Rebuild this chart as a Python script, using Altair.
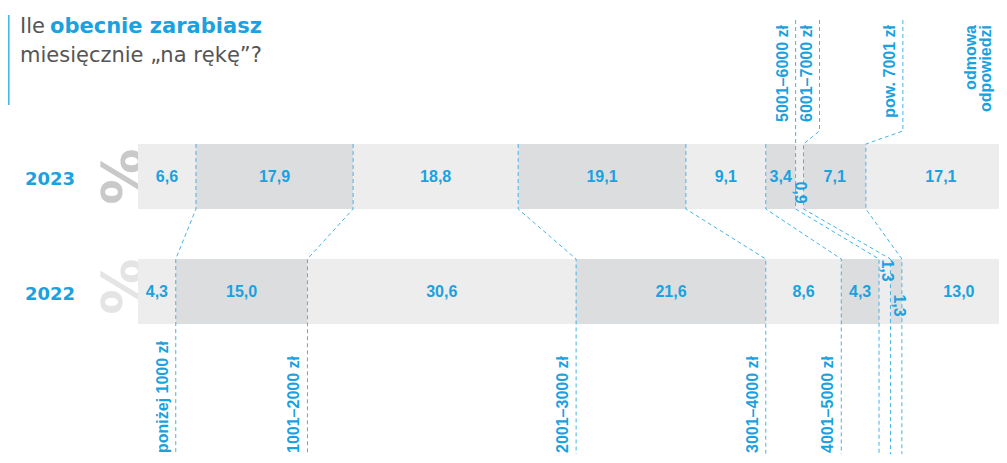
import altair as alt
import pandas as pd

# ---------------- data ----------------
years = ["2023", "2022"]
categories = ["poniżej 1000 zł", "1001–2000 zł", "2001–3000 zł", "3001–4000 zł",
              "4001–5000 zł", "5001–6000 zł", "6001–7000 zł", "pow. 7001 zł",
              "odmowa\nodpowiedzi"]
values_2023 = [6.6, 17.9, 18.8, 19.1, 9.1, 3.4, 0.9, 7.1, 17.1]
values_2022 = [4.3, 15.0, 30.6, 21.6, 8.6, 4.3, 1.3, 1.3, 13.0]
title_plain = "Ile"
title_bold = "obecnie zarabiasz"
title_line2 = "miesięcznie „na rękę”?"

# ---------------- layout / style ----------------
PLOT_X0 = 138          # page x of 0 %
PX_PER_PCT = 8.78
PLOT_W = 861           # plot reaches page x 999
PLOT_Y0 = 8
PLOT_H = 446           # plot reaches page y 454
BAR_TOP = {"2023": 144, "2022": 259}
BAR_H = 65
LINE_TOP_Y = 20
KINK_Y = 131
TOP_LABEL_Y = 25
BOTTOM_LABEL_Y = 453
LABEL_GAP_PX = 13
TOP_SHIFT_PX = {6: 0, 7: 16, 8: 37, 9: -32}       # boundaries leading to top labels
SMALL_OFFSETS = {("2023", 6): (0, 16), ("2022", 6): (2, -21), ("2022", 7): (3, 14)}
PCT_DY = {"2023": 0, "2022": -5}
PCT_COLOR = {"2023": "#c9c9c9", "2022": "#e4e4e4"}

BLUE = "#1aa1e0"
LINE_BLUE = "#45b4e6"
LIGHT = "#ededed"
DARK = "#dcdddf"
GRAY_TXT = "#555555"

def fmt(v):
    return f"{v:.1f}".replace(".", ",")

def pct(px):
    return px / PX_PER_PCT

series = {"2023": values_2023, "2022": values_2022}
cums = {}
bar_rows = []
for yr in years:
    c = 0.0
    cl = [0.0]
    for i, v in enumerate(series[yr]):
        top = BAR_TOP[yr]
        bar_rows.append(dict(year=yr, i=i, start=c, end=c + v, top=top, bottom=top + BAR_H,
                             fill=LIGHT if i % 2 == 0 else DARK, label=fmt(v),
                             xc=c + v / 2, yc=top + BAR_H / 2, small=v < 2))
        c += v
        cl.append(c)
    cums[yr] = cl
bars = pd.DataFrame(bar_rows)
for (yr, i), (dx, dy) in SMALL_OFFSETS.items():
    m = (bars.year == yr) & (bars.i == i)
    bars.loc[m, "xc"] += pct(dx)
    bars.loc[m, "yc"] += dy

# connector lines
line_rows = []
b23, b22 = BAR_TOP["2023"], BAR_TOP["2022"]
for k in range(1, len(values_2023)):
    c23, c22 = cums["2023"][k], cums["2022"][k]
    pts = []
    if k in TOP_SHIFT_PX:
        xs_ = c23 + pct(TOP_SHIFT_PX[k])
        pts += [(xs_, LINE_TOP_Y), (xs_, KINK_Y)]
    pts += [(c23, b23), (c23, b23 + BAR_H), (c22, b22), (c22, PLOT_Y0 + PLOT_H)]
    for o, (x, y) in enumerate(pts):
        line_rows.append(dict(b=k, o=o, x=x, y=y))
lines = pd.DataFrame(line_rows)

# category labels
bottom_rows, top_rows = [], []
for i, cat in enumerate(categories):
    if i < 5:
        bottom_rows.append(dict(t=cat, x=cums["2022"][i + 1] - pct(LABEL_GAP_PX), y=BOTTOM_LABEL_Y))
    else:
        k = i + 1
        top_rows.append(dict(t=cat, x=cums["2023"][k] + pct(TOP_SHIFT_PX[k]) - pct(LABEL_GAP_PX),
                             y=TOP_LABEL_Y))
bottom_lab = pd.DataFrame(bottom_rows)
top_lab = pd.DataFrame(top_rows)

year_df = pd.DataFrame(dict(t=years, y=[BAR_TOP[y] + BAR_H / 2 + 3 for y in years]))
pct_df = pd.DataFrame(dict(t=["%", "%"], y=[BAR_TOP[y] + BAR_H / 2 + PCT_DY[y] for y in years],
                           col=[PCT_COLOR[y] for y in years]))

xs = alt.Scale(domain=[0, PLOT_W / PX_PER_PCT], nice=False, zero=False)
ys = alt.Scale(domain=[PLOT_Y0, PLOT_Y0 + PLOT_H], reverse=True, nice=False, zero=False)

def X(f):
    return alt.X(f, type="quantitative", scale=xs, axis=None)

def Y(f):
    return alt.Y(f, type="quantitative", scale=ys, axis=None)

pct_layer = alt.Chart(pct_df).mark_text(angle=90, font="DejaVu Sans", fontWeight="bold",
                                        fontSize=56, align="center", baseline="middle").encode(
    x=alt.value(119 - PLOT_X0), y=Y("y"), text="t:N", color=alt.Color("col:N", scale=None))

bar_layer = alt.Chart(bars).mark_bar(strokeWidth=0, clip=True).encode(
    x=X("start"), x2=alt.X2("end"), y=Y("top"), y2=alt.Y2("bottom"),
    color=alt.Color("fill:N", scale=None))

line_layer = alt.Chart(lines).mark_line(strokeDash=[4, 3], strokeWidth=1, color=LINE_BLUE,
                                        clip=True).encode(
    x=X("x"), y=Y("y"), detail="b:N", order=alt.Order("o:Q"))

val_layer = alt.Chart(bars[~bars.small]).mark_text(
    font="Liberation Sans", fontWeight="bold", fontSize=16, color=BLUE,
    align="center", baseline="middle").encode(x=X("xc"), y=Y("yc"), text="label:N")

small_layer = alt.Chart(bars[bars.small]).mark_text(
    font="Liberation Sans", fontWeight="bold", fontSize=16, color=BLUE, angle=90,
    align="center", baseline="middle").encode(x=X("xc"), y=Y("yc"), text="label:N")

bottom_layer = alt.Chart(bottom_lab).mark_text(
    font="Liberation Sans", fontWeight="bold", fontSize=16, color=BLUE, angle=270,
    align="left", baseline="middle").encode(x=X("x"), y=Y("y"), text="t:N")

top_layer = alt.Chart(top_lab).mark_text(
    font="Liberation Sans", fontWeight="bold", fontSize=16, color=BLUE, angle=270,
    align="right", baseline="middle", lineBreak="\n", lineHeight=15).encode(
    x=X("x"), y=Y("y"), text="t:N")

year_layer = alt.Chart(year_df).mark_text(
    font="DejaVu Sans", fontWeight="bold", fontSize=18, color=BLUE,
    align="center", baseline="middle").encode(x=alt.value(50 - PLOT_X0), y=Y("y"), text="t:N")

one = pd.DataFrame({"t": [0]})
t1 = alt.Chart(one).mark_text(font="DejaVu Sans", fontSize=21, color=GRAY_TXT, align="left",
                              baseline="alphabetic", text=title_plain).encode(
    x=alt.value(20 - PLOT_X0), y=alt.value(33 - PLOT_Y0))
t2 = alt.Chart(one).mark_text(font="DejaVu Sans", fontWeight="bold", fontSize=21, color=BLUE,
                              align="left", baseline="alphabetic", text=title_bold).encode(
    x=alt.value(50 - PLOT_X0), y=alt.value(33 - PLOT_Y0))
t3 = alt.Chart(one).mark_text(font="DejaVu Sans", fontSize=21, color=GRAY_TXT, align="left",
                              baseline="alphabetic", text=title_line2).encode(
    x=alt.value(20 - PLOT_X0), y=alt.value(62 - PLOT_Y0))
rule = alt.Chart(one).mark_rule(color="#3cb4e6", strokeWidth=1.5).encode(
    x=alt.value(8.8 - PLOT_X0), y=alt.value(15 - PLOT_Y0), y2=alt.value(105 - PLOT_Y0))

chart = alt.layer(pct_layer, bar_layer, line_layer, val_layer, small_layer, bottom_layer,
                  top_layer, year_layer, t1, t2, t3, rule).properties(
    width=PLOT_W, height=PLOT_H,
    autosize=alt.AutoSizeParams(type="none"),
    padding={"left": PLOT_X0 - 8, "top": 0, "right": 0, "bottom": 0},
).configure_view(strokeWidth=0)

chart.save("out.html", embed_options={"renderer": "svg", "actions": False})
